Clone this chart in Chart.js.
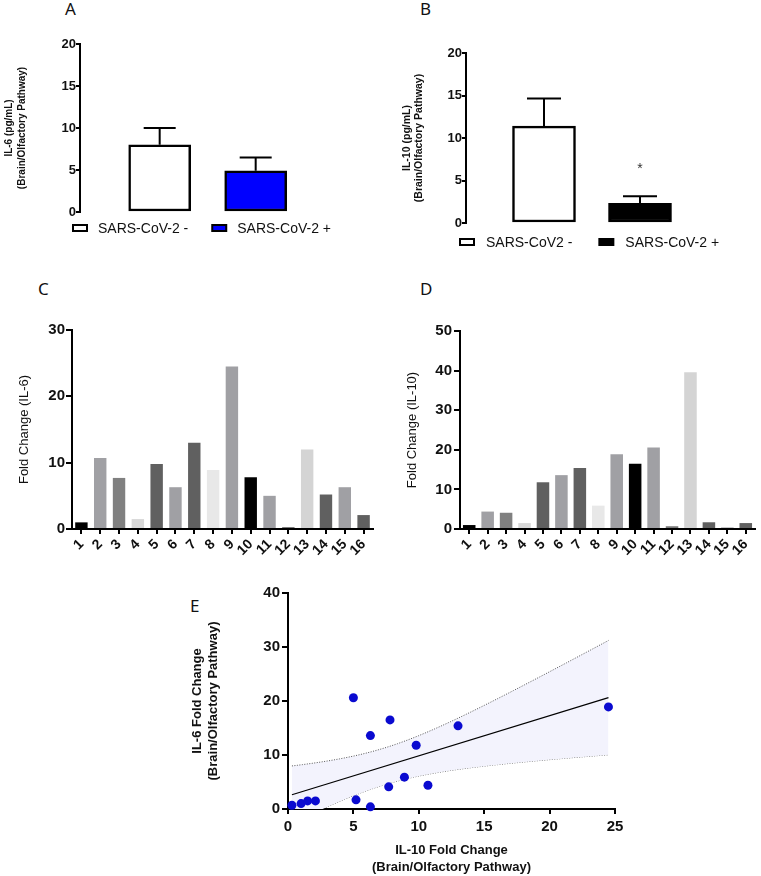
<!DOCTYPE html>
<html lang="en">
<head>
<meta charset="utf-8">
<title>IL-6 / IL-10 Brain/Olfactory Pathway</title>
<script src="https://cdn.jsdelivr.net/npm/chart.js@4.4.1/dist/chart.umd.min.js"></script>
<style>
  html, body { margin: 0; padding: 0; background: #fff; }
  #lienzo { position: relative; width: 761px; height: 876px; overflow: hidden; }
  #lienzo canvas { position: absolute; }
  .letra { position: absolute; font: 17px "Noto Sans", sans-serif; color: #111; line-height: 1; }
</style>
</head>
<body>
<div id="lienzo">
  <div class="letra" style="left:65px;top:0">A</div>
  <div class="letra" style="left:420px;top:0">B</div>
  <div class="letra" style="left:38px;top:280px">C</div>
  <div class="letra" style="left:420px;top:280px">D</div>
  <div class="letra" style="left:190px;top:597px">E</div>
  <canvas id="graficaA" width="407" height="250" style="left:0;top:0"></canvas>
  <canvas id="graficaB" width="424" height="260" style="left:380px;top:0"></canvas>
  <canvas id="graficaC" width="380" height="330" style="left:0;top:270px"></canvas>
  <canvas id="graficaD" width="381" height="330" style="left:380px;top:270px"></canvas>
  <canvas id="graficaE" width="460" height="296" style="left:180px;top:580px"></canvas>
</div>

<script>
// ---------- Datos ----------

const gruposA = ['SARS-CoV-2 -', 'SARS-CoV-2 +'];
const gruposB = ['SARS-CoV2 -', 'SARS-CoV-2 +'];

// panel A: IL-6 (pg/mL), media y error
const il6Media = [8.0, 4.9];
const il6Error = [2.0, 1.6];

// panel B: IL-10 (pg/mL), media y error
const il10Media = [11.4, 2.3];
const il10Error = [3.25, 0.85];
const il10Marca = ['', '*'];

// paneles C y D: fold change por muestra
const muestras = ['1', '2', '3', '4', '5', '6', '7', '8', '9', '10', '11', '12', '13', '14', '15', '16'];
const il6Cambio = [1.0, 10.7, 7.7, 1.5, 9.8, 6.3, 13.0, 8.9, 24.5, 7.8, 5.0, 0.3, 12.0, 5.2, 6.3, 2.1];
const il10Cambio = [1.0, 4.4, 4.1, 1.5, 11.8, 13.6, 15.4, 5.9, 18.9, 16.5, 20.6, 0.7, 39.6, 1.7, 0.4, 1.5];

// panel E: la muestra 13 no entra en la correlacion
const excluidas = ['13'];

// ticks
const ticksA = [0, 5, 10, 15, 20];
const ticksB = [0, 5, 10, 15, 20];
const ticksC = [0, 10, 20, 30];
const ticksD = [0, 10, 20, 30, 40, 50];
const ticksEx = [0, 5, 10, 15, 20, 25];
const ticksEy = [0, 10, 20, 30, 40];

// ---------- Estilos ----------

const negro = '#000';
const textoColor = '#111';
const fuente = "'Liberation Sans', Arial, sans-serif";
const grises = ['#000000', '#a0a0a4', '#808080', '#d9d9d9', '#606060', '#a0a0a4', '#606060', '#e8e8e8',
  '#a0a0a4', '#000000', '#a0a0a4', '#7a7a7a', '#d4d4d4', '#606060', '#a0a0a4', '#606060'];

Chart.defaults.font.family = fuente;
Chart.defaults.color = textoColor;
Chart.defaults.animation = false;
Chart.defaults.events = [];
Chart.defaults.plugins.legend.display = false;
Chart.defaults.plugins.tooltip.enabled = false;

// ---------- Plugins ----------

// barras de error (solo hacia arriba) y marca de significancia
const barrasError = {
  id: 'barrasError',
  afterDatasetsDraw(chart, args, opts) {
    const ctx = chart.ctx;
    const yScale = chart.scales.y;
    const meta = chart.getDatasetMeta(0);
    ctx.save();
    ctx.strokeStyle = negro;
    ctx.lineWidth = 2;
    meta.data.forEach((bar, i) => {
      const yTop = yScale.getPixelForValue(opts.medias[i] + opts.errores[i]);
      const half = opts.tapa / 2;
      ctx.beginPath();
      ctx.moveTo(bar.x, bar.y);
      ctx.lineTo(bar.x, yTop);
      ctx.moveTo(bar.x - half, yTop);
      ctx.lineTo(bar.x + half, yTop);
      ctx.stroke();
      if (opts.marcas && opts.marcas[i]) {
        ctx.fillStyle = '#333';
        ctx.font = '14px ' + fuente;
        ctx.textAlign = 'center';
        ctx.textBaseline = 'middle';
        ctx.fillText(opts.marcas[i], bar.x, yTop - 27);
      }
    });
    ctx.restore();
  }
};

// leyenda debajo del grafico, cajita con borde negro
const leyendaAbajo = {
  id: 'leyendaAbajo',
  afterDraw(chart, args, opts) {
    const ctx = chart.ctx;
    const ds = chart.data.datasets[0];
    let x = opts.x;
    ctx.save();
    ctx.font = '14px ' + fuente;
    ctx.textBaseline = 'middle';
    ctx.textAlign = 'left';
    chart.data.labels.forEach((txt, i) => {
      ctx.fillStyle = ds.backgroundColor[i];
      ctx.fillRect(x + 1, opts.y - 3, 14, 6);
      ctx.strokeStyle = negro;
      ctx.lineWidth = 2;
      ctx.strokeRect(x + 1, opts.y - 3, 14, 6);
      x += 16 + opts.hueco;
      ctx.fillStyle = textoColor;
      ctx.fillText(txt, x, opts.y + 1);
      x += ctx.measureText(txt).width + opts.espacio;
    });
    ctx.restore();
  }
};

// ---------- Ejes ----------

function ejeIzq(cfg) {
  return {
    min: cfg.ticks[0],
    max: cfg.ticks[cfg.ticks.length - 1],
    afterBuildTicks: s => { s.ticks = cfg.ticks.map(v => ({ value: v })); },
    afterFit: s => { s.width = cfg.ancho; },
    border: { display: true, color: negro, width: 2 },
    grid: { drawOnChartArea: false, drawTicks: true, tickLength: cfg.largo, color: negro, lineWidth: 2 },
    ticks: { color: textoColor, padding: cfg.pad, font: { weight: 'bold', size: cfg.size } },
    title: {
      display: true,
      text: cfg.titulo,
      color: textoColor,
      padding: { top: cfg.tpad, bottom: 0 },
      font: cfg.tfont
    }
  };
}

function ejeMuestras() {
  return {
    afterFit: s => { s.height = 71; },
    border: { display: true, color: negro, width: 2 },
    grid: { drawOnChartArea: false, drawTicks: true, tickLength: 5, color: negro, lineWidth: 2, offset: false },
    ticks: { color: textoColor, minRotation: 45, maxRotation: 45, autoSkip: false, padding: 2, font: { weight: 'bold', size: 14 } }
  };
}

// ---------- Panel A ----------

new Chart(document.getElementById('graficaA'), {
  type: 'bar',
  data: {
    labels: gruposA,
    datasets: [{
      data: gruposA.map((g, i) => ({ x: i + 1, y: il6Media[i] })),
      backgroundColor: ['#ffffff', '#0000ff'],
      borderColor: negro,
      borderWidth: 2.5,
      borderSkipped: false,
      barThickness: 62
    }]
  },
  options: {
    responsive: false,
    devicePixelRatio: 1,
    layout: { padding: { left: 0, top: 44, right: 87, bottom: 38 } },
    scales: {
      x: { type: 'linear', display: false, offset: false, min: 0.17, max: 2.67 },
      y: ejeIzq({
        ticks: ticksA, ancho: 80, largo: 4, pad: 0, size: 13,
        titulo: ['IL-6 (pg/mL)', '(Brain/Olfactory Pathway)'],
        tpad: 3, tfont: { weight: 'bold', size: 10, lineHeight: 1.25 }
      })
    },
    plugins: {
      barrasError: { medias: il6Media, errores: il6Error, tapa: 32 },
      leyendaAbajo: { x: 72, y: 228, hueco: 10, espacio: 23 }
    }
  },
  plugins: [barrasError, leyendaAbajo]
});

// ---------- Panel B ----------

new Chart(document.getElementById('graficaB'), {
  type: 'bar',
  data: {
    labels: gruposB,
    datasets: [{
      data: gruposB.map((g, i) => ({ x: i + 1, y: il10Media[i] })),
      backgroundColor: ['#ffffff', '#000000'],
      borderColor: negro,
      borderWidth: 2.5,
      borderSkipped: false,
      barThickness: 63
    }]
  },
  options: {
    responsive: false,
    devicePixelRatio: 1,
    layout: { padding: { left: 0, top: 53, right: 98, bottom: 37 } },
    scales: {
      x: { type: 'linear', display: false, offset: false, min: 0.1875, max: 2.6875 },
      y: ejeIzq({
        ticks: ticksB, ancho: 86, largo: 4, pad: 0, size: 13,
        titulo: ['IL-10 (pg/mL)', '(Brain/Olfactory Pathway)'],
        tpad: 21, tfont: { weight: 'bold', size: 10.5, lineHeight: 1.15 }
      })
    },
    plugins: {
      barrasError: { medias: il10Media, errores: il10Error, tapa: 34, marcas: il10Marca },
      leyendaAbajo: { x: 79, y: 242, hueco: 11, espacio: 26 }
    }
  },
  plugins: [barrasError, leyendaAbajo]
});

// ---------- Panel C ----------

new Chart(document.getElementById('graficaC'), {
  type: 'bar',
  data: {
    labels: muestras,
    datasets: [{
      data: il6Cambio,
      backgroundColor: grises,
      borderWidth: 0,
      categoryPercentage: 1,
      barPercentage: 0.66
    }]
  },
  options: {
    responsive: false,
    devicePixelRatio: 1,
    layout: { padding: { left: 0, top: 60, right: 7, bottom: 0 } },
    scales: {
      x: ejeMuestras(),
      y: ejeIzq({
        ticks: ticksC, ancho: 72, largo: 6, pad: 1, size: 15,
        titulo: 'Fold Change (IL-6)',
        tpad: 17, tfont: { size: 13, lineHeight: 1.2 }
      })
    }
  }
});

// ---------- Panel D ----------

new Chart(document.getElementById('graficaD'), {
  type: 'bar',
  data: {
    labels: muestras,
    datasets: [{
      data: il10Cambio,
      backgroundColor: grises,
      borderWidth: 0,
      categoryPercentage: 1,
      barPercentage: 0.68
    }]
  },
  options: {
    responsive: false,
    devicePixelRatio: 1,
    layout: { padding: { left: 0, top: 61, right: 6, bottom: 0 } },
    scales: {
      x: ejeMuestras(),
      y: ejeIzq({
        ticks: ticksD, ancho: 80, largo: 6, pad: 2, size: 15,
        titulo: 'Fold Change (IL-10)',
        tpad: 25, tfont: { size: 13, lineHeight: 1.2 }
      })
    }
  }
});

// ---------- Panel E: correlacion ----------

const puntosX = [];
const puntosY = [];
muestras.forEach((m, i) => {
  if (excluidas.includes(m)) return;
  puntosX.push(il6Cambio[i]);
  puntosY.push(il10Cambio[i]);
});

// t(0.975) con 13 grados de libertad (15 puntos)
const T95 = 2.160;

function regresion(xs, ys) {
  const n = xs.length;
  const mx = xs.reduce((a, b) => a + b, 0) / n;
  const my = ys.reduce((a, b) => a + b, 0) / n;
  let sxx = 0, sxy = 0, syy = 0;
  xs.forEach((x, i) => {
    sxx += (x - mx) ** 2;
    sxy += (x - mx) * (ys[i] - my);
    syy += (ys[i] - my) ** 2;
  });
  const pendiente = sxy / sxx;
  const corte = my - pendiente * mx;
  const s = Math.sqrt((syy - pendiente * sxy) / (n - 2));
  return { pendiente, corte, s, mx, sxx, n };
}

const ajuste = regresion(puntosX, puntosY);
const xMin = Math.min(...puntosX);
const xMax = Math.max(...puntosX);

const lineaAjuste = [xMin, xMax].map(x => ({ x, y: ajuste.corte + ajuste.pendiente * x }));

const bandaSup = [];
const bandaInf = [];
for (let k = 0; k <= 60; k++) {
  const x = xMin + (xMax - xMin) * k / 60;
  const yHat = ajuste.corte + ajuste.pendiente * x;
  const se = ajuste.s * Math.sqrt(1 / ajuste.n + (x - ajuste.mx) ** 2 / ajuste.sxx);
  bandaSup.push({ x, y: yHat + T95 * se });
  bandaInf.push({ x, y: yHat - T95 * se });
}

const punteado = {
  type: 'line',
  borderColor: '#555',
  borderWidth: 1,
  borderDash: [1, 1.5],
  pointRadius: 0,
  tension: 0
};

new Chart(document.getElementById('graficaE'), {
  type: 'scatter',
  data: {
    datasets: [
      {
        data: puntosX.map((x, i) => ({ x, y: puntosY[i] })),
        backgroundColor: '#0a0ad0',
        borderWidth: 0,
        pointRadius: 4.5,
        clip: false,
        order: 0
      },
      {
        type: 'line',
        data: lineaAjuste,
        borderColor: negro,
        borderWidth: 1.2,
        pointRadius: 0,
        order: 1
      },
      { ...punteado, data: bandaSup, fill: '+1', backgroundColor: '#f3f3fd', order: 2 },
      { ...punteado, data: bandaInf, fill: false, order: 3 }
    ]
  },
  options: {
    responsive: false,
    devicePixelRatio: 1,
    layout: { padding: { left: 0, top: 13, right: 25, bottom: 0 } },
    scales: {
      x: {
        type: 'linear',
        min: ticksEx[0],
        max: ticksEx[ticksEx.length - 1],
        afterBuildTicks: s => { s.ticks = ticksEx.map(v => ({ value: v })); },
        afterFit: s => { s.height = 67; },
        border: { display: true, color: negro, width: 2 },
        grid: { drawOnChartArea: false, drawTicks: true, tickLength: 5, color: negro, lineWidth: 2 },
        ticks: { color: textoColor, padding: 4, font: { weight: 'bold', size: 15 } },
        title: {
          display: true,
          text: ['IL-10 Fold Change', '(Brain/Olfactory Pathway)'],
          color: textoColor,
          padding: { top: 0, bottom: 0 },
          font: { weight: 'bold', size: 13, lineHeight: 1.3 }
        }
      },
      y: ejeIzq({
        ticks: ticksEy, ancho: 108, largo: 6, pad: 2, size: 15,
        titulo: ['IL-6 Fold Change', '(Brain/Olfactory Pathway)'],
        tpad: 8.5, tfont: { weight: 'bold', size: 13, lineHeight: 1.3 }
      })
    }
  }
});
</script>
</body>
</html>
